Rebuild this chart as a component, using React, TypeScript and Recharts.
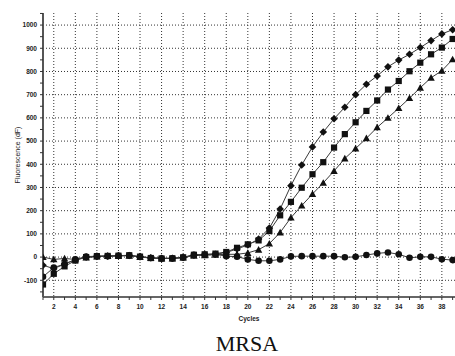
import { LineChart, Line, XAxis, YAxis, CartesianGrid } from 'recharts';

const cycles = [
  1, 2, 3, 4, 5, 6, 7, 8, 9, 10, 11, 12, 13, 14, 15, 16, 17, 18, 19, 20,
  21, 22, 23, 24, 25, 26, 27, 28, 29, 30, 31, 32, 33, 34, 35, 36, 37, 38, 39,
];

const diamondSeries = [
  -35, -50, -30, -12, 0, 3, 4, 6, 7, 2, -3, -5, -5, -2, 8, 10, 12, 20, 35, 52,
  78, 125, 207, 308, 397, 475, 539, 596, 646, 700, 745, 781, 820, 849, 874, 903, 933, 962, 980,
];

const squareSeries = [
  -118, -72, -40, -15, 0, 4, 5, 6, 8, 2, -4, -6, -5, -1, 10, 12, 15, 22, 40, 55,
  72, 112, 180, 238, 299, 357, 409, 472, 530, 581, 630, 675, 722, 759, 801, 838, 874, 903, 940,
];

const triangleSeries = [
  0, -10, -6, -10, -2, 2, 4, 5, 6, 0, -4, -6, -6, -2, 6, 8, 10, 12, 12, 18,
  32, 58, 106, 170, 222, 272, 320, 371, 425, 468, 512, 559, 600, 642, 685, 730, 773, 803, 852,
];

const circleSeries = [
  -85, -45, -30, -10, 2, 4, 4, 6, 7, 1, -4, -6, -6, -2, 10, 10, 12, 4, 2, -10,
  -16, -16, -10, 3, 4, 4, 4, 4, -1, 1, 9, 16, 20, 12, -3, 1, 1, -9, -13,
];

const yTicks = [
  -150, -100, -50, 0, 50, 100, 150, 200, 250, 300, 350, 400, 450, 500, 550, 600,
  650, 700, 750, 800, 850, 900, 950, 1000, 1050,
];
const yGrid = [-100, 0, 100, 200, 300, 400, 500, 600, 700, 800, 900, 1000];
const xGrid = [2, 4, 6, 8, 10, 12, 14, 16, 18, 20, 22, 24, 26, 28, 30, 32, 34, 36, 38];

const data = cycles.map((c, i) => ({
  cycle: c,
  a: diamondSeries[i],
  b: squareSeries[i],
  c: triangleSeries[i],
  d: circleSeries[i],
}));

const LINE = '#3a3a3a';
const MARK = '#111111';
const FONT = 'Arial, "Liberation Sans", sans-serif';

function DiamondDot(props: any) {
  const { cx, cy } = props;
  if (cx == null || cy == null) return null;
  const r = 3.8;
  return (
    <polygon
      points={`${cx},${cy - r} ${cx + r},${cy} ${cx},${cy + r} ${cx - r},${cy}`}
      fill={MARK}
    />
  );
}

function SquareDot(props: any) {
  const { cx, cy } = props;
  if (cx == null || cy == null) return null;
  const s = 6.2;
  return <rect x={cx - s / 2} y={cy - s / 2} width={s} height={s} fill={MARK} />;
}

function TriangleDot(props: any) {
  const { cx, cy } = props;
  if (cx == null || cy == null) return null;
  const r = 3.7;
  return (
    <polygon
      points={`${cx},${cy - r} ${cx + r},${cy + r * 0.8} ${cx - r},${cy + r * 0.8}`}
      fill={MARK}
    />
  );
}

function CircleDot(props: any) {
  const { cx, cy } = props;
  if (cx == null || cy == null) return null;
  return <circle cx={cx} cy={cy} r={3.3} fill={MARK} />;
}

function XTick(props: any) {
  const { x, y, payload } = props;
  if (payload.value % 2 !== 0) return null;
  return (
    <text x={x} y={y + 7} textAnchor="middle" fontSize={6.5} fontWeight="bold" fill="#222" fontFamily={FONT}>
      {payload.value}
    </text>
  );
}

function YTick(props: any) {
  const { x, y, payload } = props;
  if (payload.value % 100 !== 0) return null;
  return (
    <text x={x - 1} y={y + 2.3} textAnchor="end" fontSize={6.5} fontWeight="bold" fill="#222" fontFamily={FONT}>
      {payload.value}
    </text>
  );
}

export default function App() {
  return (
    <div style={{ position: 'absolute', left: 0, top: 0, width: 455, height: 356, background: '#fff' }}>
      <LineChart width={455} height={356} data={data} margin={{ top: 13, right: 0, left: 0, bottom: 0 }}>
        <CartesianGrid
          stroke="#333"
          strokeDasharray="1 2"
          horizontalValues={yGrid}
          verticalValues={xGrid}
        />
        <XAxis
          dataKey="cycle"
          type="number"
          domain={[1, 39.22]}
          ticks={cycles}
          interval={0}
          allowDataOverflow
          height={59}
          tick={<XTick />}
          tickSize={3}
          tickLine={{ stroke: '#333' }}
          axisLine={{ stroke: '#333', strokeWidth: 1.5 }}
          label={{
            value: 'Cycles',
            position: 'insideTop',
            offset: 19,
            fontSize: 6.5,
            fontWeight: 'bold',
            fill: '#222',
            fontFamily: FONT,
          }}
        />
        <YAxis
          type="number"
          domain={[-172, 1052]}
          ticks={yTicks}
          interval={0}
          allowDataOverflow
          width={43}
          tick={<YTick />}
          tickSize={3}
          tickLine={{ stroke: '#333' }}
          axisLine={{ stroke: '#555', strokeWidth: 2 }}
          label={{
            value: 'Fluorescence (dF)',
            angle: -90,
            position: 'insideLeft',
            offset: 18,
            fontSize: 7,
            fill: '#222',
            fontFamily: FONT,
            style: { textAnchor: 'middle' },
          }}
        />
        <Line dataKey="d" stroke={LINE} strokeWidth={1} dot={(p: any) => <CircleDot key={`d${p.index}`} {...p} />} isAnimationActive={false} />
        <Line dataKey="c" stroke={LINE} strokeWidth={1} dot={(p: any) => <TriangleDot key={`c${p.index}`} {...p} />} isAnimationActive={false} />
        <Line dataKey="b" stroke={LINE} strokeWidth={1} dot={(p: any) => <SquareDot key={`b${p.index}`} {...p} />} isAnimationActive={false} />
        <Line dataKey="a" stroke={LINE} strokeWidth={1} dot={(p: any) => <DiamondDot key={`a${p.index}`} {...p} />} isAnimationActive={false} />
      </LineChart>
      <div
        style={{
          position: 'absolute',
          left: 0,
          width: 494,
          top: 331,
          textAlign: 'center',
          fontFamily: '"Liberation Serif", "Times New Roman", serif',
          fontSize: 22,
          color: '#111',
        }}
      >
        MRSA
      </div>
    </div>
  );
}
